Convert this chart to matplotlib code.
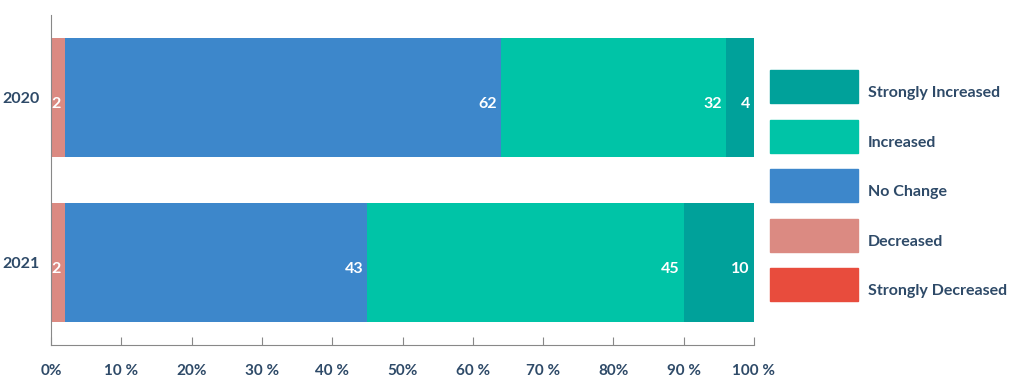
import matplotlib.pyplot as plt
from matplotlib.patches import Rectangle

years = ["2021", "2020"]
categories = ["Strongly Decreased", "Decreased", "No Change", "Increased", "Strongly Increased"]
colors = ["#E84C3D", "#DB8A82", "#3D87CB", "#00C4A7", "#00A19A"]
# values per category, in the order of years
values = {
    "Strongly Decreased": [0, 0],
    "Decreased": [2, 2],
    "No Change": [43, 62],
    "Increased": [45, 32],
    "Strongly Increased": [10, 4],
}
tick_vals = [0, 10, 20, 30, 40, 50, 60, 70, 80, 90, 100]
tick_labels = ["0%", "10 %", "20%", "30 %", "40 %", "50%", "60 %", "70 %", "80%", "90 %", "100 %"]

text_col = "#2E4A68"
plt.rcParams['font.family'] = ['Lato', 'DejaVu Sans']

fig = plt.figure(figsize=(10.24, 3.88), dpi=100)
ax = fig.add_axes([51 / 1024, 1 - 345 / 388, (754 - 51) / 1024, 330 / 388])

left = [0, 0]
ypos = [0, 1]
for cat, col in zip(categories, colors):
    vals = values[cat]
    ax.barh(ypos, vals, left=left, height=0.72, color=col)
    for y, v, l in zip(ypos, vals, left):
        if v > 0:
            ax.annotate(str(v), (l + v, y), xytext=(-3, -5), textcoords="offset points",
                        ha="right", va="center", color="white", fontsize=11.5, fontweight="bold")
    left = [a + b for a, b in zip(left, vals)]

ax.set_xlim(0, 100)
ax.set_ylim(-0.5, 1.5)
ax.set_yticks(ypos)
ax.set_yticklabels(years, fontsize=11.5, fontweight="bold", color=text_col)
ax.tick_params(axis="y", length=0, pad=8)
ax.set_xticks(tick_vals)
ax.set_xticklabels(tick_labels, fontsize=11, fontweight="bold", color=text_col)
ax.tick_params(axis="x", direction="in", length=6, color="#888888", pad=14)
for s in ["top", "right"]:
    ax.spines[s].set_visible(False)
for s in ["left", "bottom"]:
    ax.spines[s].set_color("#888888")

# legend
leg_top = [70, 120, 169, 219, 268]
for cat, col, t in zip(categories[::-1], colors[::-1], leg_top):
    fig.add_artist(Rectangle((770 / 1024, 1 - (t + 33) / 388), 88 / 1024, 33 / 388,
                             transform=fig.transFigure, color=col))
    fig.text(868 / 1024, 1 - (t + 23) / 388, cat, ha="left", va="center",
             fontsize=11.5, fontweight="bold", color=text_col)

fig.savefig("out.png", dpi=100)
